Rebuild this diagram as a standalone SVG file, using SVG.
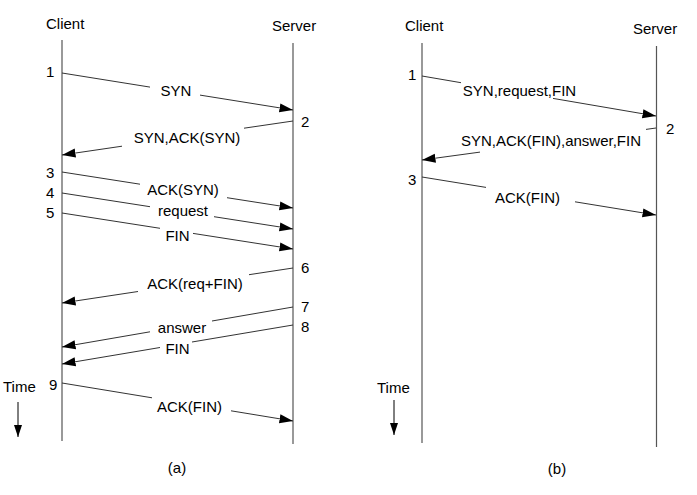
<svg xmlns="http://www.w3.org/2000/svg" width="697" height="495" viewBox="0 0 697 495">
<defs>
<marker id="ah" markerUnits="userSpaceOnUse" markerWidth="14" markerHeight="10" refX="13.5" refY="5" orient="auto">
<path d="M0,0.5 L13.5,5 L0,9.5 z" fill="#000"/>
</marker>
<marker id="th" markerUnits="userSpaceOnUse" markerWidth="12" markerHeight="9" refX="12" refY="4.5" orient="auto">
<path d="M0,0.5 L12,4.5 L0,8.5 z" fill="#000"/>
</marker>
<style>
text{font-family:"Liberation Sans",Arial,sans-serif;font-size:15px;fill:#000}
.m{text-anchor:middle}
.life{stroke:#555;stroke-width:1.2;fill:none}
.msg{stroke:#333;stroke-width:1;fill:none}
.end{marker-end:url(#ah)}
</style>
</defs>
<rect width="697" height="495" fill="#fff"/>

<g id="panel-a-actors">
<g id="a-client"><text x="46" y="29">Client</text><line class="life" x1="62" y1="40" x2="62" y2="441"/></g>
<g id="a-server"><text x="272" y="31">Server</text><line class="life" x1="293" y1="43" x2="293" y2="444"/></g>
<g id="a-time"><text x="3" y="392">Time</text><line stroke="#000" stroke-width="1" x1="18" y1="402" x2="18" y2="437" marker-end="url(#th)"/></g>
<text id="a-caption" class="m" x="177" y="473">(a)</text>
</g>

<g id="panel-b-actors">
<g id="b-client"><text x="405" y="31">Client</text><line class="life" x1="422" y1="43" x2="422" y2="443"/></g>
<g id="b-server"><text x="633" y="34">Server</text><line class="life" x1="656.5" y1="46" x2="656.5" y2="447"/></g>
<g id="b-time"><text x="377" y="393">Time</text><line stroke="#000" stroke-width="1" x1="394" y1="400" x2="394" y2="435" marker-end="url(#th)"/></g>
<text id="b-caption" class="m" x="557" y="474">(b)</text>
</g>

<g id="connectors">
<!-- panel a -->
<line class="msg" x1="62" y1="73" x2="150" y2="87.1"/><line class="msg end" x1="200" y1="95.1" x2="293" y2="110"/>
<line class="msg" x1="293" y1="121" x2="244" y2="128.2"/><line class="msg end" x1="122" y1="146.2" x2="62" y2="155"/>
<line class="msg" x1="62" y1="172" x2="140" y2="184.2"/><line class="msg end" x1="227" y1="197.7" x2="293" y2="208"/>
<line class="msg" x1="62" y1="193" x2="150" y2="206.7"/><line class="msg end" x1="214" y1="216.7" x2="293" y2="229"/>
<line class="msg" x1="62" y1="213" x2="160" y2="228.3"/><line class="msg end" x1="193" y1="233.4" x2="293" y2="249"/>
<line class="msg" x1="293" y1="268" x2="249" y2="274.7"/><line class="msg end" x1="138" y1="291.5" x2="62" y2="303"/>
<line class="msg" x1="293" y1="307" x2="212" y2="321"/><line class="msg end" x1="150" y1="331.8" x2="62" y2="347"/>
<line class="msg" x1="293" y1="325" x2="192" y2="342"/><line class="msg end" x1="160" y1="347.5" x2="62" y2="364"/>
<line class="msg" x1="62" y1="383" x2="152" y2="397.8"/><line class="msg end" x1="231" y1="410.8" x2="293" y2="421"/>
<!-- panel b -->
<line class="msg" x1="422" y1="76" x2="461" y2="82.7"/><line class="msg end" x1="553" y1="98.4" x2="656" y2="116"/>
<line class="msg" x1="656" y1="128" x2="646" y2="129.4"/><line class="msg end" x1="480" y1="152.1" x2="422" y2="160"/>
<line class="msg" x1="422" y1="177" x2="486" y2="187.4"/><line class="msg end" x1="575" y1="201.8" x2="656" y2="215"/>
</g>

<g id="labels-a">
<text x="46" y="77">1</text>
<text x="301" y="127">2</text>
<text x="46" y="178">3</text>
<text x="46" y="198">4</text>
<text x="46" y="218">5</text>
<text x="301" y="273">6</text>
<text x="301" y="312">7</text>
<text x="301" y="332">8</text>
<text x="49" y="390">9</text>
<text class="m" x="176" y="96">SYN</text>
<text class="m" x="187" y="143">SYN,ACK(SYN)</text>
<text class="m" x="183" y="195">ACK(SYN)</text>
<text class="m" x="183" y="216">request</text>
<text class="m" x="177.5" y="241">FIN</text>
<text class="m" x="195" y="289">ACK(req+FIN)</text>
<text class="m" x="182" y="333">answer</text>
<text class="m" x="177.5" y="354">FIN</text>
<text class="m" x="189.5" y="412">ACK(FIN)</text>
</g>

<g id="labels-b">
<text x="408" y="80">1</text>
<text x="666" y="134">2</text>
<text x="408" y="185">3</text>
<text class="m" x="519.5" y="96">SYN,request,FIN</text>
<text class="m" x="551" y="146">SYN,ACK(FIN),answer,FIN</text>
<text class="m" x="527.5" y="203">ACK(FIN)</text>
</g>
</svg>
